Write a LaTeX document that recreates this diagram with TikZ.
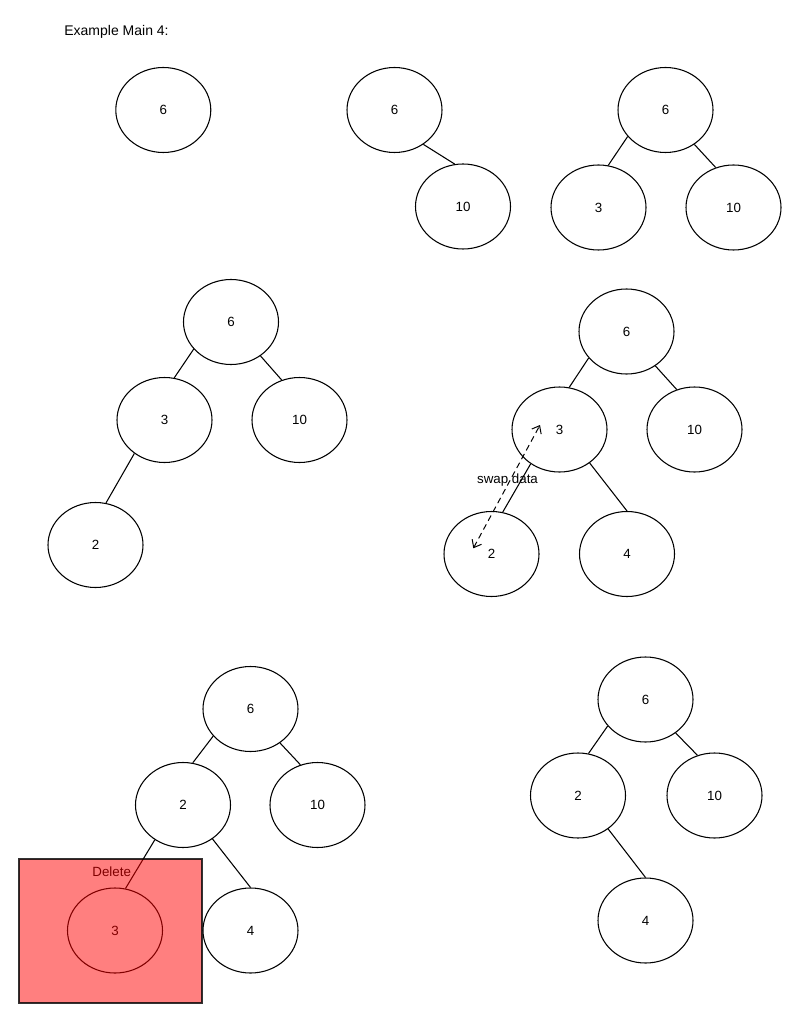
\documentclass[tikz,border=0pt]{standalone}
\usepackage{fontspec}
\setmainfont{Liberation Sans}
\usetikzlibrary{shapes.geometric,arrows.meta}
\begin{document}
\begin{tikzpicture}[x=0.75pt,y=-0.75pt,
  bnode/.style={ellipse,draw=black,line width=0.8pt,fill=white,minimum width=71.25pt,minimum height=63.75pt,inner sep=0pt,font=\fontsize{10pt}{12pt}\selectfont},
  edge/.style={draw=black,line width=0.8pt},
  lbl/.style={inner sep=0pt,font=\fontsize{10pt}{12pt}\selectfont},
  swaparrow/.style={draw=black,line width=0.75pt,dash pattern=on 4.5pt off 3pt,{Straight Barb[length=5pt,width=8pt]}-{Straight Barb[length=5pt,width=8pt]}},
  delbox/.style={draw=black,draw opacity=0.8,line width=0.8pt,fill=red,fill opacity=0.5}]
\useasboundingbox (0,0) rectangle (801,1023);
\fill[white] (0,0) rectangle (801,1023);
\node[lbl,font=\fontsize{10.5pt}{12pt}\selectfont] (title) at (116.5,31.5) {Example Main 4:};
% row 1
\node[bnode] (A1) at (163.3,110) {6};
\node[bnode] (B1) at (394.5,110) {6};
\node[bnode] (B2) at (463,206.5) {10};
\node[bnode] (C1) at (665.5,110) {6};
\node[bnode] (C2) at (598.5,207.5) {3};
\node[bnode] (C3) at (733.5,207.5) {10};
\draw[edge] (B1.-50) -- (B2.101);
\draw[edge] (C1.-145) -- (C2.77);
\draw[edge] (C1.-50) -- (C3.114);
% row 2 left
\node[bnode] (D1) at (231,322) {6};
\node[bnode] (D2) at (164.5,420) {3};
\node[bnode] (D3) at (299.5,420) {10};
\node[bnode] (D4) at (95.5,545) {2};
\draw[edge] (D1.-144) -- (D2.77);
\draw[edge] (D1.-49) -- (D3.114);
\draw[edge] (D2.-132) -- (D4.76);
% row 2 right
\node[bnode] (E1) at (626.5,331.5) {6};
\node[bnode] (E2) at (559.5,429.5) {3};
\node[bnode] (E3) at (694.5,429.5) {10};
\node[bnode] (E4) at (491.5,554) {2};
\node[bnode] (E5) at (627,554) {4};
\draw[edge] (E1.-145) -- (E2.77);
\draw[edge] (E1.-50) -- (E3.114);
\draw[edge] (E2.-130) -- (E4.75);
\draw[edge] (E2.-48) -- (E5.90);
\coordinate (s1) at (473.3,548.3);
\coordinate (s2) at (540,425);
\draw[swaparrow] (s1) -- (s2);
\node[lbl] (swap) at (507.5,480.5) {swap data};
% row 3 left
\node[bnode] (F1) at (250.5,709) {6};
\node[bnode] (F2) at (183,805) {2};
\node[bnode] (F3) at (317.5,805) {10};
\node[bnode] (F4) at (115,930.5) {3};
\node[bnode] (F5) at (250.5,930.5) {4};
\draw[edge] (F1.-144) -- (F2.77);
\draw[edge] (F1.-49) -- (F3.113);
\draw[edge] (F2.-129) -- (F4.76);
\draw[edge] (F2.-49) -- (F5.90);
\node[lbl] (del) at (111.7,871.5) {Delete};
\node[delbox,minimum width=137.25pt,minimum height=108pt,inner sep=0pt] (box) at (110.5,931) {};
% row 3 right
\node[bnode] (G1) at (645.5,699.5) {6};
\node[bnode] (G2) at (578,795.5) {2};
\node[bnode] (G3) at (714.5,795.5) {10};
\node[bnode] (G4) at (645.5,920.5) {4};
\draw[edge] (G1.-145) -- (G2.76);
\draw[edge] (G1.-48) -- (G3.113);
\draw[edge] (G2.-48) -- (G4.90);
\end{tikzpicture}
\end{document}
